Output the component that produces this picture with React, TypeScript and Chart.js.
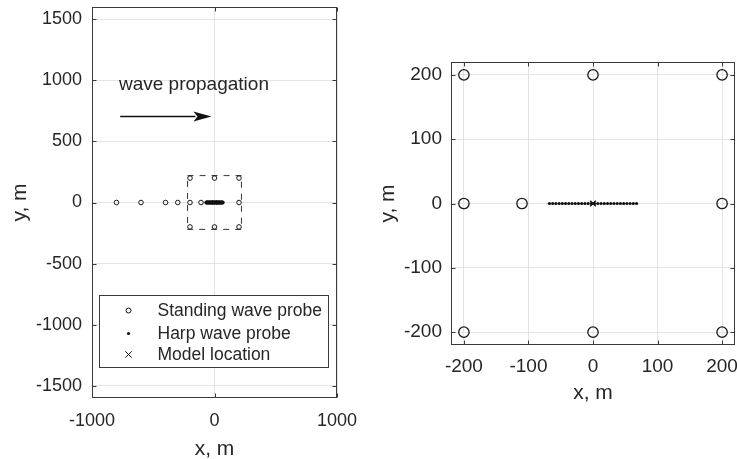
import React, { useEffect, useRef } from "react";
import { Chart, registerables } from "chart.js";

Chart.register(...registerables);

// ---------------- data ----------------
const STANDING_X = [-800, -600, -400, -300, -200, -110, 200, -200, 0, 200, -200, 0, 200];
const STANDING_Y = [0, 0, 0, 0, 0, 0, 0, 200, 200, 200, -200, -200, -200];
const HARP_X = [
  -67.5, -62.5, -57.5, -52.5, -47.5, -42.5, -37.5, -32.5, -27.5, -22.5, -17.5, -12.5, -7.5, -2.5,
  2.5, 7.5, 12.5, 17.5, 22.5, 27.5, 32.5, 37.5, 42.5, 47.5, 52.5, 57.5, 62.5, 67.5,
];
const HARP_Y = [
  0, 0, 0, 0, 0, 0, 0, 0, 0, 0, 0, 0, 0, 0,
  0, 0, 0, 0, 0, 0, 0, 0, 0, 0, 0, 0, 0, 0,
];
const MODEL_X = [0];
const MODEL_Y = [0];
const BOX_X = [-220, 220, 220, -220, -220];
const BOX_Y = [220, 220, -220, -220, 220];

const LEFT_X_RANGE = [-1000, 1000];
const LEFT_Y_RANGE = [-1600, 1600];
const RIGHT_X_RANGE = [-220, 220];
const RIGHT_Y_RANGE = [-220, 220];

const LEFT_X_TICKS = [-1000, 0, 1000];
const LEFT_Y_TICKS = [-1500, -1000, -500, 0, 500, 1000, 1500];
const RIGHT_X_TICKS = [-200, -100, 0, 100, 200];
const RIGHT_Y_TICKS = [-200, -100, 0, 100, 200];

const LEGEND_LABELS = ["Standing wave probe", "Harp wave probe", "Model location"];
const ANNOTATION_TEXT = "wave propagation";
const ANNOTATION_X = -780;
const ANNOTATION_Y = 920;
const ARROW_X = [-770, -25];
const ARROW_Y = 710;

const X_TITLE = "x, m";
const Y_TITLE = "y, m";

// ---------------- style ----------------
const FONT = "'Liberation Sans', Arial, Helvetica, sans-serif";
const TEXT = "#262626";
const GRID = "#e4e4e4";
const FRAME = "#3a3a3a";

const pts = (xs: number[], ys: number[]) => xs.map((x, i) => ({ x, y: ys[i] }));

const framePlugin = {
  id: "matlabFrame",
  afterDatasetsDraw(chart: any) {
    const { ctx, chartArea: a, scales } = chart;
    const L = Math.round(a.left) + 0.5;
    const R = Math.round(a.right) - 0.5;
    const T = Math.round(a.top) + 0.5;
    const B = Math.round(a.bottom) - 0.5;
    const tl = 4;
    ctx.save();
    ctx.strokeStyle = FRAME;
    ctx.lineWidth = 1;
    ctx.beginPath();
    scales.x.ticks.forEach((t: any) => {
      const p = Math.round(scales.x.getPixelForValue(t.value)) + 0.5;
      ctx.moveTo(p, B);
      ctx.lineTo(p, B - tl);
      ctx.moveTo(p, T);
      ctx.lineTo(p, T + tl);
    });
    scales.y.ticks.forEach((t: any) => {
      const p = Math.round(scales.y.getPixelForValue(t.value)) + 0.5;
      ctx.moveTo(L, p);
      ctx.lineTo(L + tl, p);
      ctx.moveTo(R, p);
      ctx.lineTo(R - tl, p);
    });
    ctx.stroke();
    ctx.strokeRect(L, T, R - L, B - T);
    ctx.restore();
  },
};

const annotationPlugin = {
  id: "waveAnnotation",
  afterDatasetsDraw(chart: any) {
    const { ctx, scales } = chart;
    const xs = scales.x;
    const ys = scales.y;
    ctx.save();
    ctx.fillStyle = TEXT;
    ctx.font = `19px ${FONT}`;
    ctx.textAlign = "left";
    ctx.textBaseline = "alphabetic";
    ctx.fillText(ANNOTATION_TEXT, xs.getPixelForValue(ANNOTATION_X), ys.getPixelForValue(ANNOTATION_Y));
    const x0 = xs.getPixelForValue(ARROW_X[0]);
    const x1 = xs.getPixelForValue(ARROW_X[1]);
    const y = Math.round(ys.getPixelForValue(ARROW_Y)) + 0.5;
    const headLen = 18;
    const headHalf = 5;
    ctx.strokeStyle = "#111";
    ctx.lineWidth = 1.4;
    ctx.beginPath();
    ctx.moveTo(x0, y);
    ctx.lineTo(x1 - headLen + 2, y);
    ctx.stroke();
    ctx.fillStyle = "#111";
    ctx.beginPath();
    ctx.moveTo(x1, y);
    ctx.lineTo(x1 - headLen, y - headHalf);
    ctx.lineTo(x1 - headLen + 4, y);
    ctx.lineTo(x1 - headLen, y + headHalf);
    ctx.closePath();
    ctx.fill();
    ctx.restore();
  },
};

const legendPlugin = {
  id: "boxLegend",
  afterDraw(chart: any) {
    const { ctx, chartArea: a } = chart;
    const bx = Math.round(a.left + 7) + 0.5;
    const by = Math.round(a.bottom - 103) + 0.5;
    const bw = 229;
    const bh = 72;
    ctx.save();
    ctx.fillStyle = "#ffffff";
    ctx.fillRect(bx, by, bw, bh);
    ctx.strokeStyle = FRAME;
    ctx.lineWidth = 1;
    ctx.strokeRect(bx, by, bw, bh);
    const rows = [15, 38, 59];
    const mx = bx + 29;
    ctx.font = `17.5px ${FONT}`;
    ctx.fillStyle = TEXT;
    ctx.textAlign = "left";
    ctx.textBaseline = "middle";
    LEGEND_LABELS.forEach((lab, i) => {
      const cy = by + rows[i];
      ctx.strokeStyle = "#111";
      ctx.fillStyle = "#111";
      ctx.lineWidth = 1;
      if (i === 0) {
        ctx.beginPath();
        ctx.arc(mx, cy, 2.5, 0, Math.PI * 2);
        ctx.stroke();
      } else if (i === 1) {
        ctx.beginPath();
        ctx.arc(mx, cy, 1.6, 0, Math.PI * 2);
        ctx.fill();
      } else {
        const r = 3.2;
        ctx.beginPath();
        ctx.moveTo(mx - r, cy - r);
        ctx.lineTo(mx + r, cy + r);
        ctx.moveTo(mx + r, cy - r);
        ctx.lineTo(mx - r, cy + r);
        ctx.stroke();
      }
      ctx.fillStyle = TEXT;
      ctx.fillText(lab, bx + 58, cy + 1);
    });
    ctx.restore();
  },
};

type PanelOpts = {
  xRange: number[];
  yRange: number[];
  xTicks: number[];
  yTicks: number[];
  padding: { left: number; top: number; right: number; bottom: number };
  yAxisWidth: number;
  xAxisHeight: number;
  tickSize: number;
  xTickPad: number;
  yTickPad: number;
  xTitlePad: number;
  yTitlePad: number;
  circleR: number;
  circleW: number;
  harpR: number;
  crossR: number;
  crossW: number;
  showBox: boolean;
  plugins: any[];
};

const clearScalePadding = (s: any) => {
  s.paddingTop = 0;
  s.paddingBottom = 0;
  s.paddingLeft = 0;
  s.paddingRight = 0;
};

function buildConfig(o: PanelOpts): any {
  const datasets: any[] = [
    {
      label: LEGEND_LABELS[2],
      data: pts(MODEL_X, MODEL_Y),
      pointStyle: "crossRot",
      pointRadius: o.crossR,
      pointBorderWidth: o.crossW,
      pointBorderColor: "#111",
      pointBackgroundColor: "#111",
    },
    {
      label: LEGEND_LABELS[1],
      data: pts(HARP_X, HARP_Y),
      pointStyle: "circle",
      pointRadius: o.harpR,
      pointBorderWidth: 0,
      pointBackgroundColor: "#111",
      pointBorderColor: "#111",
    },
    {
      label: LEGEND_LABELS[0],
      data: pts(STANDING_X, STANDING_Y),
      pointStyle: "circle",
      pointRadius: o.circleR,
      pointBorderWidth: o.circleW,
      pointBorderColor: "#1a1a1a",
      pointBackgroundColor: "rgba(0,0,0,0)",
    },
  ];
  if (o.showBox) {
    datasets.push({
      label: "box",
      data: pts(BOX_X, BOX_Y),
      showLine: true,
      borderColor: "#333",
      borderWidth: 1,
      borderDash: [6, 6],
      pointRadius: 0,
      fill: false,
    });
  }
  const tickFont = { family: FONT, size: o.tickSize };
  const titleFont = { family: FONT, size: 21 };
  return {
    type: "scatter",
    data: { datasets },
    options: {
      responsive: false,
      animation: false,
      events: [],
      devicePixelRatio: 1,
      layout: { padding: o.padding },
      plugins: { legend: { display: false }, tooltip: { enabled: false } },
      scales: {
        x: {
          type: "linear",
          min: o.xRange[0],
          max: o.xRange[1],
          afterBuildTicks: (s: any) => {
            s.ticks = o.xTicks.map((v) => ({ value: v }));
          },
          afterFit: (s: any) => {
            s.height = o.xAxisHeight;
            clearScalePadding(s);
          },
          grid: { color: GRID, drawTicks: false, lineWidth: 1 },
          border: { display: false },
          ticks: {
            padding: o.xTickPad,
            font: tickFont,
            color: TEXT,
            autoSkip: false,
            maxRotation: 0,
            callback: (v: any) => String(v),
          },
          title: {
            display: true,
            text: X_TITLE,
            font: titleFont,
            color: TEXT,
            padding: { top: 0, bottom: o.xTitlePad },
          },
        },
        y: {
          type: "linear",
          min: o.yRange[0],
          max: o.yRange[1],
          afterBuildTicks: (s: any) => {
            s.ticks = o.yTicks.map((v) => ({ value: v }));
          },
          afterFit: (s: any) => {
            s.width = o.yAxisWidth;
            clearScalePadding(s);
          },
          grid: { color: GRID, drawTicks: false, lineWidth: 1 },
          border: { display: false },
          ticks: {
            padding: o.yTickPad,
            font: tickFont,
            color: TEXT,
            autoSkip: false,
            callback: (v: any) => String(v),
          },
          title: {
            display: true,
            text: Y_TITLE,
            font: titleFont,
            color: TEXT,
            padding: { top: o.yTitlePad, bottom: 0 },
          },
        },
      },
    },
    plugins: o.plugins,
  };
}

function Panel({ width, height, left, opts }: { width: number; height: number; left: number; opts: PanelOpts }) {
  const ref = useRef<HTMLCanvasElement>(null);
  useEffect(() => {
    const chart = new Chart(ref.current as HTMLCanvasElement, buildConfig(opts));
    return () => chart.destroy();
  }, []);
  return (
    <canvas
      ref={ref}
      width={width}
      height={height}
      style={{ position: "absolute", left, top: 0, width, height }}
    />
  );
}

const leftOpts: PanelOpts = {
  xRange: LEFT_X_RANGE,
  yRange: LEFT_Y_RANGE,
  xTicks: LEFT_X_TICKS,
  yTicks: LEFT_Y_TICKS,
  padding: { left: 0, top: 7, right: 33, bottom: 0 },
  yAxisWidth: 92,
  xAxisHeight: 61,
  tickSize: 18,
  xTickPad: 12,
  yTickPad: 10,
  xTitlePad: -3,
  yTitlePad: 8,
  circleR: 2.3,
  circleW: 1,
  harpR: 1.9,
  crossR: 3,
  crossW: 1,
  showBox: true,
  plugins: [framePlugin, annotationPlugin, legendPlugin],
};

const rightOpts: PanelOpts = {
  xRange: RIGHT_X_RANGE,
  yRange: RIGHT_Y_RANGE,
  xTicks: RIGHT_X_TICKS,
  yTicks: RIGHT_Y_TICKS,
  padding: { left: 0, top: 62, right: 35, bottom: 0 },
  yAxisWidth: 81,
  xAxisHeight: 114,
  tickSize: 19,
  xTickPad: 10,
  yTickPad: 9,
  xTitlePad: 53,
  yTitlePad: 6,
  circleR: 5.2,
  circleW: 1.3,
  harpR: 1.6,
  crossR: 4,
  crossW: 1.3,
  showBox: false,
  plugins: [framePlugin],
};

export default function App() {
  return (
    <div
      style={{
        position: "absolute",
        left: 0,
        top: 0,
        width: 737,
        height: 459,
        overflow: "hidden",
        background: "#ffffff",
      }}
    >
      <Panel width={370} height={459} left={0} opts={leftOpts} />
      <Panel width={400} height={459} left={370} opts={rightOpts} />
    </div>
  );
}
